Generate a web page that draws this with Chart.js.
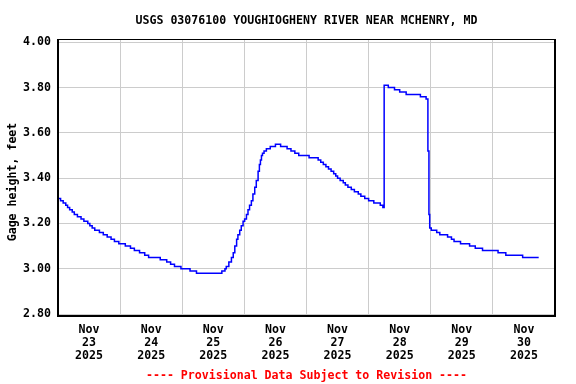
<!DOCTYPE html>
<html>
<head>
<meta charset="utf-8">
<script src="https://cdn.jsdelivr.net/npm/chart.js@4.4.1/dist/chart.umd.min.js"></script>
<style>
  body { margin: 0; background: #fff; }
  canvas { display: block; }
</style>
</head>
<body>
<canvas id="gageChart" width="576" height="384"></canvas>
<script>
// hours since Nov 23 00:00 at which the gage reading changed, and the new reading (feet)
const stepHours = [
    0, 1, 2, 3, 3.7, 4.5, 5.5, 6.3, 7.5, 8.9, 10, 11.5, 12.3, 13.2, 14.2, 16, 17.5, 19, 20.5, 21.8,
    23.5, 26, 28, 29.5, 31.5, 33.5, 35, 39.5, 42, 43.5, 45, 47.5, 51, 53.5, 63.3, 64.5,
    65, 66, 67, 67.7, 68.3, 69, 69.5, 70.2, 70.8, 71.5, 72.1, 72.8, 73.4, 74, 74.7, 75.3,
    76, 76.6, 77.3, 77.8, 78.2, 78.6, 79, 79.6, 80.5, 82, 84, 86, 88.5, 90, 91.5, 93,
    97, 100.5, 101.5, 102.5, 103.5, 104.5, 105.5, 106.5, 107.3, 108, 109, 110.2, 111, 112,
    113.3, 114.5, 116, 117, 118.5, 120, 122, 124.5, 125.5,
    126, 127.6, 130, 132, 134.5, 140, 142.2, 142.9, 143.3, 143.6, 144.2,
    146.3, 147.5, 150.5, 152, 153, 155.5, 159, 161.2, 164, 170, 173, 179.5, 185.7
];
const stageFeet = [
    3.31, 3.30, 3.29, 3.28, 3.27, 3.26, 3.25, 3.24, 3.23, 3.22, 3.21, 3.20, 3.19, 3.18, 3.17, 3.16, 3.15, 3.14, 3.13, 3.12,
    3.11, 3.10, 3.09, 3.08, 3.07, 3.06, 3.05, 3.04, 3.03, 3.02, 3.01, 3.00, 2.99, 2.98, 2.99, 3.00,
    3.01, 3.03, 3.05, 3.07, 3.10, 3.13, 3.15, 3.17, 3.19, 3.21, 3.22, 3.24, 3.26, 3.28, 3.30, 3.33,
    3.36, 3.39, 3.43, 3.46, 3.48, 3.50, 3.51, 3.52, 3.53, 3.54, 3.55, 3.54, 3.53, 3.52, 3.51, 3.50,
    3.49, 3.48, 3.47, 3.46, 3.45, 3.44, 3.43, 3.42, 3.41, 3.40, 3.39, 3.38, 3.37, 3.36,
    3.35, 3.34, 3.33, 3.32, 3.31, 3.30, 3.29, 3.28, 3.27,
    3.81, 3.80, 3.79, 3.78, 3.77, 3.76, 3.75, 3.52, 3.24, 3.18, 3.17,
    3.16, 3.15, 3.14, 3.13, 3.12, 3.11, 3.10, 3.09, 3.08, 3.07, 3.06, 3.05, 3.05
];

const yTicks = [2.80, 3.00, 3.20, 3.40, 3.60, 3.80, 4.00];
const dayLabels = ['23', '24', '25', '26', '27', '28', '29', '30'];
const monthLabel = 'Nov';
const yearLabel = '2025';

const chartTitle = 'USGS 03076100 YOUGHIOGHENY RIVER NEAR MCHENRY, MD';
const yTitle = 'Gage height, feet';
const footNote = '---- Provisional Data Subject to Revision ----';

const FONT = 'bold 11.6px "DejaVu Sans Mono", monospace';

// frame, title, axis title and footnote drawn round the plot area
const framePlugin = {
    id: 'framePlugin',
    afterDraw: function(chart) {
        const ctx = chart.ctx;
        const a = chart.chartArea;
        ctx.save();
        ctx.strokeStyle = '#000';
        ctx.lineWidth = 1;
        ctx.beginPath();
        ctx.moveTo(a.left, a.top + 0.5);
        ctx.lineTo(a.right, a.top + 0.5);
        ctx.stroke();
        ctx.lineWidth = 2;
        ctx.beginPath();
        ctx.moveTo(a.left, a.top);
        ctx.lineTo(a.left, a.bottom);
        ctx.lineTo(a.right, a.bottom);
        ctx.lineTo(a.right, a.top);
        ctx.stroke();

        const cx = (a.left + a.right) / 2;
        ctx.font = FONT;
        ctx.textAlign = 'center';
        ctx.textBaseline = 'middle';
        ctx.fillStyle = '#000';
        ctx.fillText(chartTitle, cx, 20.5);

        ctx.fillStyle = '#f00';
        ctx.fillText(footNote, cx, 375.5);

        ctx.fillStyle = '#000';
        ctx.translate(13, 182);
        ctx.rotate(-Math.PI / 2);
        ctx.fillText(yTitle, 0, 0);
        ctx.restore();
    }
};

document.addEventListener('DOMContentLoaded', function() {
    const ctx = document.getElementById('gageChart').getContext('2d');

    const gageData = {
        datasets: [{
            label: 'Gage height',
            data: stepHours.map((h, i) => ({ x: h, y: stageFeet[i] })),
            borderColor: '#0000ff',
            borderWidth: 1.5,
            pointRadius: 0,
            stepped: true,
            fill: false
        }]
    };

    const config = {
        type: 'line',
        data: gageData,
        options: {
            responsive: false,
            animation: false,
            layout: { padding: { top: 39, right: 21, left: 0, bottom: 0 } },
            plugins: {
                legend: { display: false },
                tooltip: { enabled: false },
                title: { display: false }
            },
            scales: {
                x: {
                    type: 'linear',
                    min: 0,
                    max: 192,
                    afterBuildTicks: function(axis) {
                        const ticks = [];
                        for (let v = 0; v <= 192; v += 12) ticks.push({ value: v });
                        axis.ticks = ticks;
                    },
                    afterFit: function(axis) { axis.height = 68; },
                    border: { display: false },
                    grid: {
                        drawTicks: false,
                        lineWidth: 1,
                        color: function(c) {
                            const v = c.tick ? c.tick.value : 0;
                            return (v % 24 === 0 && v > 0 && v < 192) ? '#cccccc' : 'rgba(0,0,0,0)';
                        }
                    },
                    ticks: {
                        autoSkip: false,
                        maxRotation: 0,
                        padding: 8,
                        color: '#000',
                        font: { family: '"DejaVu Sans Mono", monospace', size: 11.6, weight: 'bold', lineHeight: 1.1 },
                        callback: function(value) {
                            if (value % 24 !== 12) return '';
                            return [monthLabel, dayLabels[Math.floor(value / 24)], yearLabel];
                        }
                    }
                },
                y: {
                    min: 2.7912,
                    max: 4.0146,
                    afterBuildTicks: function(axis) {
                        axis.ticks = yTicks.map(v => ({ value: v }));
                    },
                    afterFit: function(axis) { axis.width = 58; },
                    border: { display: false },
                    grid: { drawTicks: false, color: '#cccccc', lineWidth: 1 },
                    ticks: {
                        padding: 7,
                        color: '#000',
                        font: { family: '"DejaVu Sans Mono", monospace', size: 11.6, weight: 'bold' },
                        callback: function(value) { return Number(value).toFixed(2); }
                    }
                }
            }
        },
        plugins: [framePlugin]
    };

    const gageChart = new Chart(ctx, config);
});
</script>
</body>
</html>
